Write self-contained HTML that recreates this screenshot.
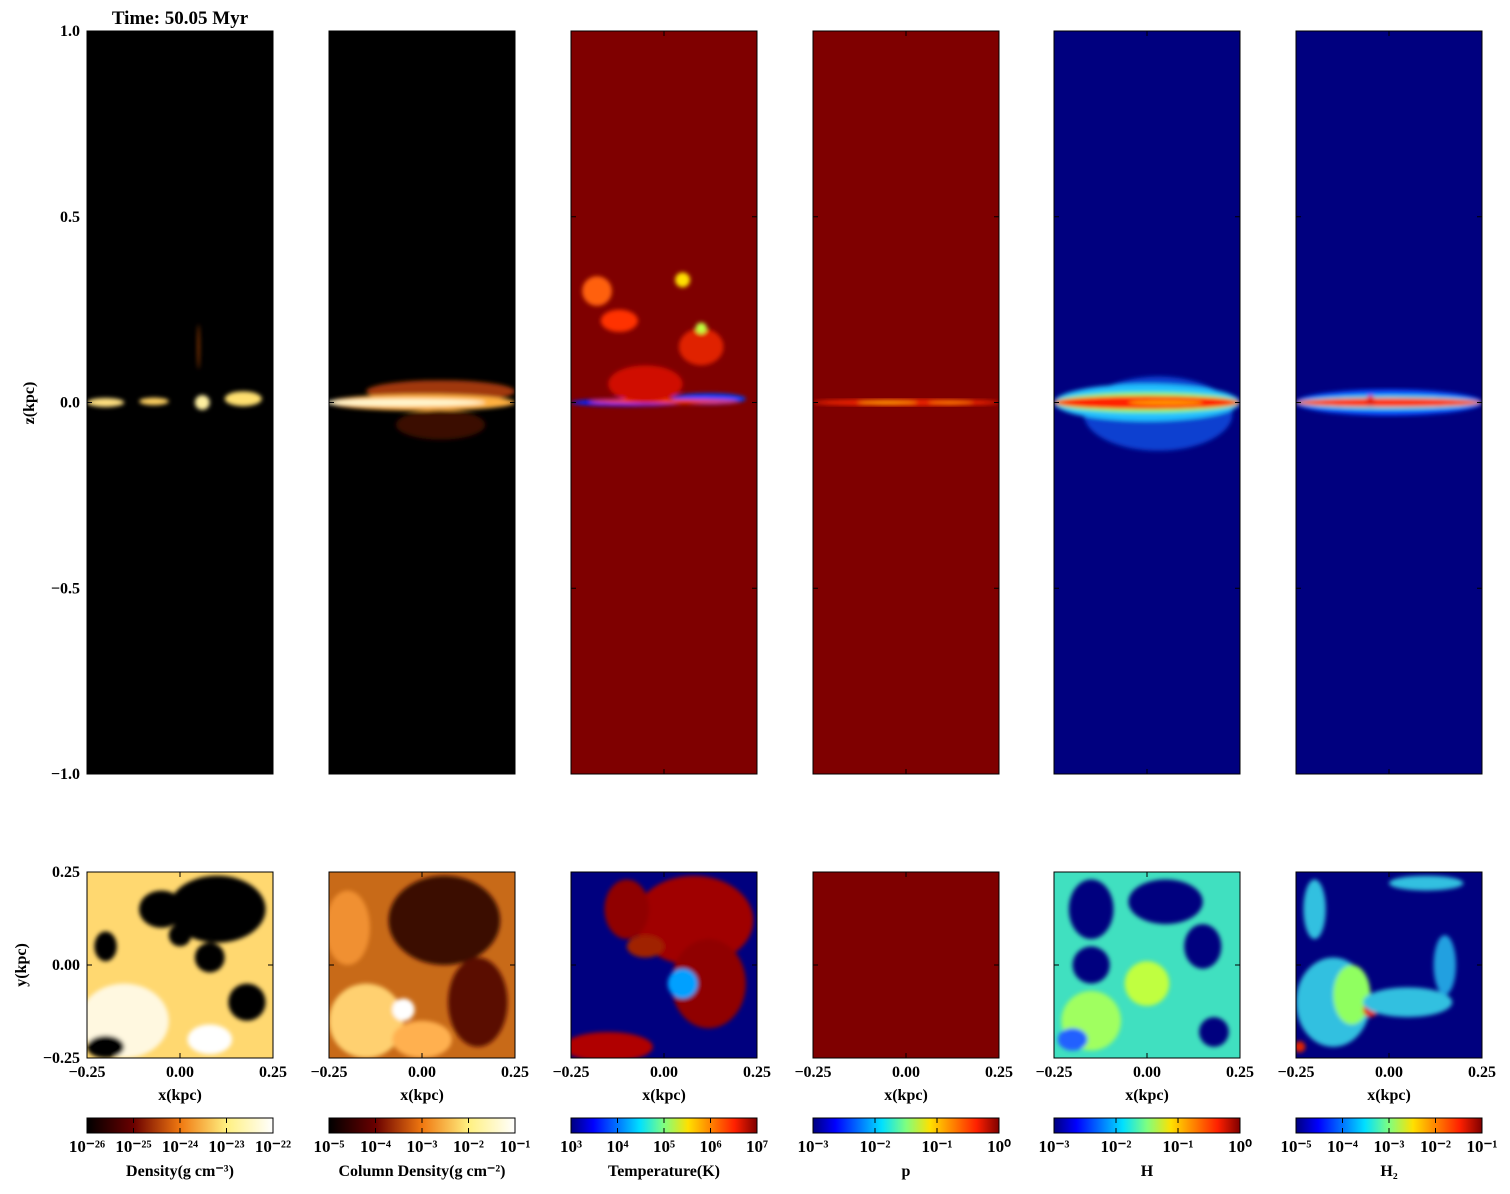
<!DOCTYPE html>
<html><head><meta charset="utf-8"><style>
body{margin:0;background:#fff;}
svg text{font-family:"Liberation Serif",serif;fill:#000;font-weight:bold;}
</style></head><body>
<svg id="c" width="1510" height="1189" xmlns="http://www.w3.org/2000/svg">
<defs>
<linearGradient id="g-hot" x1="0" x2="1"><stop offset="0" stop-color="#000"/><stop offset="0.25" stop-color="#6a0000"/><stop offset="0.5" stop-color="#f07810"/><stop offset="0.75" stop-color="#fff080"/><stop offset="1" stop-color="#fff"/></linearGradient>
<linearGradient id="g-jet" x1="0" x2="1"><stop offset="0" stop-color="#00007f"/><stop offset="0.12" stop-color="#0000ff"/><stop offset="0.37" stop-color="#00e0ff"/><stop offset="0.5" stop-color="#7fff7f"/><stop offset="0.63" stop-color="#ffe000"/><stop offset="0.88" stop-color="#ff2000"/><stop offset="1" stop-color="#7f0000"/></linearGradient>
<filter id="blur2"><feGaussianBlur stdDeviation="2"/></filter>
</defs>
</svg>
<script>
const colX=[87,329,571,813,1054,1296];
const panelW=186;
const topY0=31, topY1=774, botY0=872, botY1=1058;
const xTicks=[-0.25,0,0.25];
const xTickLabels=["\u22120.25","0.00","0.25"];
const zTicks=[1,0.5,0,-0.5,-1];
const zTickLabels=["1.0","0.5","0.0","\u22120.5","\u22121.0"];
const yTicks=[0.25,0,-0.25];
const yTickLabels=["0.25","0.00","\u22120.25"];
const topBg=["#000","#000","#7f0000","#7f0000","#00007f","#00007f"];
const botBg=["#ffd870","#c86a18","#00007f","#7f0000","#40e0c0","#00007f"];
const cbNames=["Density(g cm\u207B\u00B3)","Column Density(g cm\u207B\u00B2)","Temperature(K)","p","H","H\u2082"];
const cbGrad=["g-hot","g-hot","g-jet","g-jet","g-jet","g-jet"];
const cbLabels=[["10\u207B\u00B2\u2076","10\u207B\u00B2\u2075","10\u207B\u00B2\u2074","10\u207B\u00B2\u00B3","10\u207B\u00B2\u00B2"],["10\u207B\u2075","10\u207B\u2074","10\u207B\u00B3","10\u207B\u00B2","10\u207B\u00B9"],["10\u00B3","10\u2074","10\u2075","10\u2076","10\u2077"],["10\u207B\u00B3","10\u207B\u00B2","10\u207B\u00B9","10\u2070"],["10\u207B\u00B3","10\u207B\u00B2","10\u207B\u00B9","10\u2070"],["10\u207B\u2075","10\u207B\u2074","10\u207B\u00B3","10\u207B\u00B2","10\u207B\u00B9"]];
const topFeat=[
 [[-0.2,0,0.05,0.012,"#ffe080"],[-0.07,0.003,0.04,0.01,"#ffd060"],[0.06,0,0.02,0.02,"#fff0a0"],[0.17,0.01,0.05,0.02,"#ffe070"],[0.05,0.15,0.003,0.06,"#a04000"]],
 [[0.05,0.03,0.2,0.03,"#a03808"],[0,0,0.25,0.022,"#ffb040"],[-0.05,0,0.22,0.01,"#fff8d0"],[0.05,-0.06,0.12,0.04,"#3a0c00"]],
 [[-0.1,0,0.15,0.01,"#0020ff"],[0.12,0.01,0.1,0.015,"#0040ff"],[0,0.003,0.2,0.006,"#ff4000"],[-0.18,0.3,0.04,0.04,"#ff6010"],[-0.12,0.22,0.05,0.03,"#ff3000"],[0.1,0.15,0.06,0.05,"#e02000"],[0.05,0.33,0.02,0.02,"#ffe000"],[-0.05,0.05,0.1,0.05,"#d01000"],[0.1,0.2,0.015,0.015,"#c0ff40"]],
 [[0,0,0.25,0.01,"#e82000"],[-0.05,0,0.08,0.004,"#ffa000"],[0.12,0,0.06,0.004,"#ff8000"]],
 [[0.03,-0.03,0.2,0.1,"#0840d0"],[0,0,0.25,0.05,"#20c0ff"],[0,0,0.25,0.028,"#80ff60"],[0,0,0.25,0.018,"#ff2000"],[0.05,0,0.1,0.006,"#ffa000"]],
 [[0,0,0.25,0.035,"#1050ff"],[0,0,0.25,0.02,"#30e0e0"],[0,0,0.25,0.012,"#ff3000"],[-0.05,0.004,0.012,0.015,"#e82010"]]
];
const botFeat=[
 [[-0.15,-0.15,0.12,0.1,"#fff8e0"],[0.1,0.15,0.13,0.09,"#000"],[-0.05,0.15,0.06,0.05,"#000"],[0.18,-0.1,0.05,0.05,"#000"],[-0.2,-0.22,0.05,0.03,"#000"],[-0.2,0.05,0.03,0.04,"#000"],[0,0.08,0.03,0.03,"#000"],[0.08,0.02,0.04,0.04,"#000"],[0.08,-0.2,0.06,0.04,"#ffffff"]],
 [[0.06,0.12,0.15,0.12,"#3a0800"],[-0.15,-0.15,0.1,0.1,"#ffd070"],[-0.05,-0.12,0.03,0.03,"#fff"],[-0.2,0.1,0.06,0.1,"#f09030"],[0.15,-0.1,0.08,0.12,"#5a1000"],[0,-0.2,0.08,0.05,"#ffb050"]],
 [[0.08,0.12,0.16,0.12,"#a00000"],[-0.1,0.15,0.06,0.08,"#900000"],[0.12,-0.05,0.1,0.12,"#900000"],[-0.15,-0.22,0.12,0.04,"#b00000"],[0.05,-0.05,0.04,0.04,"#00a0ff"],[-0.05,0.05,0.05,0.03,"#a02000"]],
 [],
 [[-0.15,0.15,0.06,0.08,"#00007f"],[0.05,0.17,0.1,0.06,"#00007f"],[0.15,0.05,0.05,0.06,"#00007f"],[-0.15,0,0.05,0.05,"#00007f"],[0.18,-0.18,0.04,0.04,"#00007f"],[-0.15,-0.15,0.08,0.08,"#a0ff60"],[-0.2,-0.2,0.04,0.03,"#2060ff"],[0,-0.05,0.06,0.06,"#c0ff40"]],
 [[-0.15,-0.1,0.1,0.12,"#30c0e0"],[-0.1,-0.08,0.05,0.08,"#90ff60"],[-0.05,-0.12,0.02,0.02,"#e02000"],[-0.24,-0.22,0.015,0.015,"#e02000"],[0.05,-0.1,0.12,0.04,"#30c0e0"],[-0.2,0.15,0.03,0.08,"#30c0e0"],[0.15,0,0.03,0.08,"#20a0e0"],[0.1,0.22,0.1,0.02,"#30c0e0"]]
];
const svg=document.getElementById('c');
const NS="http://www.w3.org/2000/svg";
function mk(tag,attrs,parent){const e=document.createElementNS(NS,tag);for(const k in attrs)e.setAttribute(k,attrs[k]);(parent||svg).appendChild(e);return e;}
function sx(i,v){return colX[i]+(v+0.25)/0.5*panelW;}
function sz(v){return topY0+(1-v)/2*(topY1-topY0);}
function sy(v){return botY0+(0.25-v)/0.5*(botY1-botY0);}
function ticksFor(g,i,y0,y1,yvals,yfn){
  xTicks.forEach(t=>{const x=sx(i,t);mk('line',{x1:x,x2:x,y1:y0,y2:y0+5,stroke:'#000'},g);mk('line',{x1:x,x2:x,y1:y1,y2:y1-5,stroke:'#000'},g);});
  yvals.forEach(t=>{const y=yfn(t);mk('line',{x1:colX[i],x2:colX[i]+5,y1:y,y2:y,stroke:'#000'},g);mk('line',{x1:colX[i]+panelW,x2:colX[i]+panelW-5,y1:y,y2:y,stroke:'#000'},g);});
}
for(let i=0;i<6;i++){
  const gt=mk('g',{});
  
  
  const cp=mk('clipPath',{id:'ct'+i},svg);mk('rect',{x:colX[i],y:topY0,width:panelW,height:topY1-topY0},cp);
  mk('rect',{x:colX[i],y:topY0,width:panelW,height:topY1-topY0,fill:topBg[i]},gt);
  const ft=mk('g',{'clip-path':'url(#ct'+i+')',filter:'url(#blur2)'},gt);
  topFeat[i].forEach(f=>{const e=mk('ellipse',{cx:sx(i,f[0]),cy:sz(f[1]),rx:f[2]/0.5*panelW,ry:f[3]/2*(topY1-topY0),fill:f[4]},ft);
    
    });
  mk('rect',{x:colX[i],y:topY0,width:panelW,height:topY1-topY0,fill:'none',stroke:'#000'},gt);
  ticksFor(gt,i,topY0,topY1,zTicks,sz);
  const gb=mk('g',{});
  
  
  const cb=mk('clipPath',{id:'cb'+i},svg);mk('rect',{x:colX[i],y:botY0,width:panelW,height:botY1-botY0},cb);
  mk('rect',{x:colX[i],y:botY0,width:panelW,height:botY1-botY0,fill:botBg[i]},gb);
  const fb=mk('g',{'clip-path':'url(#cb'+i+')',filter:'url(#blur2)'},gb);
  botFeat[i].forEach(f=>{const e=mk('ellipse',{cx:sx(i,f[0]),cy:sy(f[1]),rx:f[2]/0.5*panelW,ry:f[3]/0.5*(botY1-botY0),fill:f[4]},fb);
    
    });
  mk('rect',{x:colX[i],y:botY0,width:panelW,height:botY1-botY0,fill:'none',stroke:'#000'},gb);
  ticksFor(gb,i,botY0,botY1,yTicks,sy);
  xTicks.forEach((t,k)=>{const e=mk('text',{x:sx(i,t),y:1077,'font-size':16,'text-anchor':'middle'});e.textContent=xTickLabels[k];
    
    });
  const xl=mk('text',{x:colX[i]+panelW/2,y:1100,'font-size':16,'text-anchor':'middle'});xl.textContent='x(kpc)';
  
  
  const gc=mk('g',{});
  
  
  mk('rect',{x:colX[i],y:1118,width:panelW,height:15,fill:'url(#'+cbGrad[i]+')',stroke:'#000'},gc);
  const labs=cbLabels[i];
  labs.forEach((l,k)=>{const x=colX[i]+k/(labs.length-1)*panelW;
    if(k>0&&k<labs.length-1){mk('line',{x1:x,x2:x,y1:1133,y2:1128,stroke:'#000'},gc);mk('line',{x1:x,x2:x,y1:1118,y2:1123,stroke:'#000'},gc);}
    const t=mk('text',{x:x,y:1152,'font-size':17,'text-anchor':'middle'},gc);t.textContent=l;
    
    });
  const cl=mk('text',{x:colX[i]+panelW/2,y:1176,'font-size':16,'text-anchor':'middle'},gc);cl.textContent=cbNames[i];
  
  
}
zTicks.forEach((t,k)=>{const e=mk('text',{x:80,y:sz(t)+5,'font-size':16,'text-anchor':'end'});e.textContent=zTickLabels[k];
  
  });
yTicks.forEach((t,k)=>{const e=mk('text',{x:80,y:sy(t)+5,'font-size':16,'text-anchor':'end'});e.textContent=yTickLabels[k];
  
  });
const zl=mk('text',{x:0,y:0,'font-size':16,'text-anchor':'middle',transform:'translate(34,403) rotate(-90)'});zl.textContent='z(kpc)';


const yl=mk('text',{x:0,y:0,'font-size':16,'text-anchor':'middle',transform:'translate(26,965) rotate(-90)'});yl.textContent='y(kpc)';


const tt=mk('text',{x:180,y:24,'font-size':19,'text-anchor':'middle'});tt.textContent='Time: 50.05 Myr';


</script>
</body></html>
